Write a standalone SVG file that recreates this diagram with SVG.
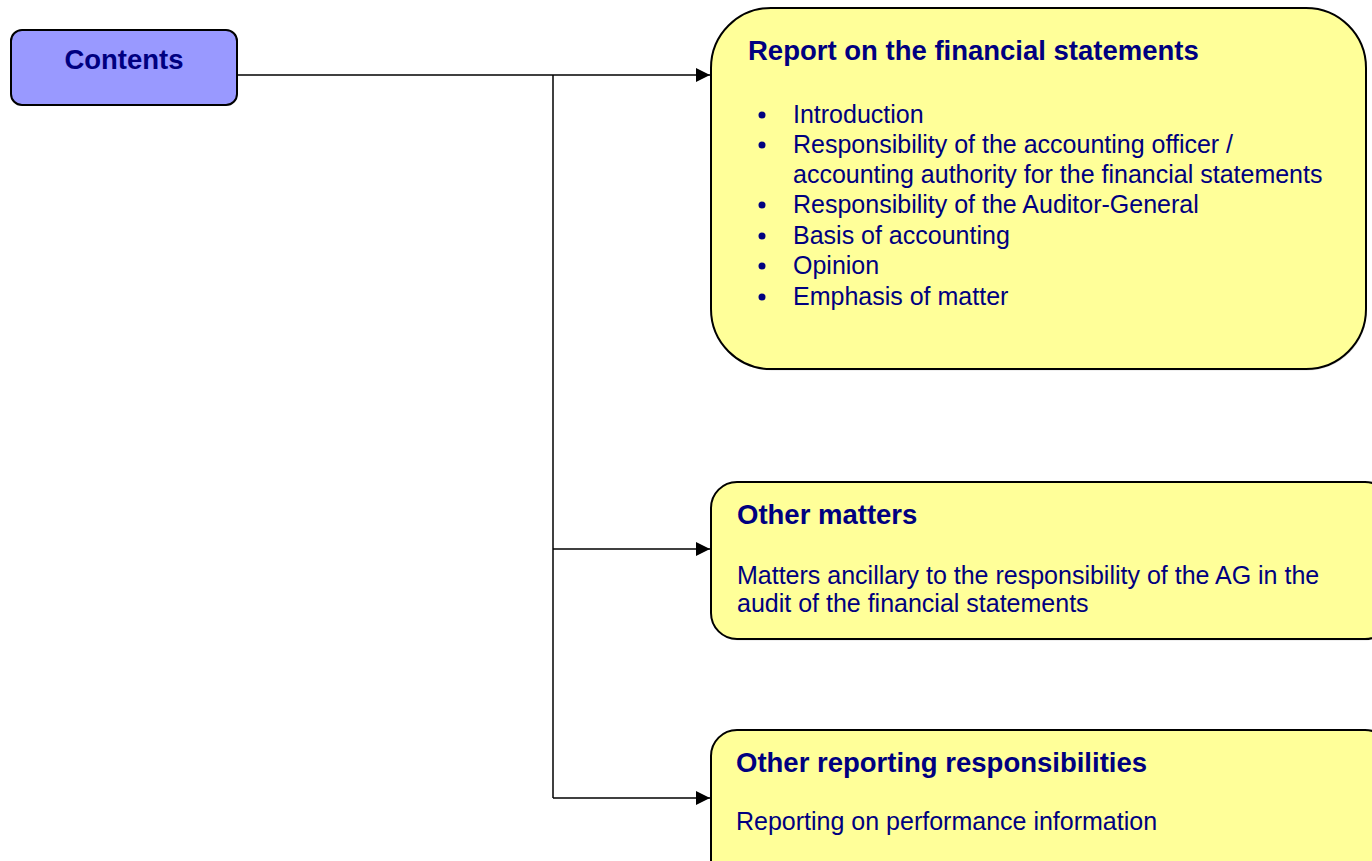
<svg xmlns="http://www.w3.org/2000/svg" width="1372" height="861" viewBox="0 0 1372 861">
  <style>
    .box { stroke: #000; stroke-width: 2; }
    .main { fill: #9999FF; }
    .note { fill: #FFFF99; }
    .shadow { fill: #b0b0b0; opacity: 0.4; }
    .title { font-family: "Liberation Sans", Arial, sans-serif; font-weight: bold; font-size: 27.5px; fill: #000080; }
    .body { font-family: "Liberation Sans", Arial, sans-serif; font-size: 25px; fill: #000080; }
    .link { fill: none; stroke: #000; stroke-width: 1.5; }
  </style>
  <defs>
    <marker id="arrow" viewBox="0 0 10 10" refX="10" refY="5" markerWidth="14" markerHeight="14" markerUnits="userSpaceOnUse" orient="auto">
      <path d="M0,0 L10,5 L0,10 Z" fill="#000"/>
    </marker>
  </defs>
  <rect width="1372" height="861" fill="#fff"/>

  <g id="connectors">
    <path class="link" d="M237,75 H710" marker-end="url(#arrow)"/>
    <path class="link" d="M553,75 V798"/>
    <path class="link" d="M553,549 H710" marker-end="url(#arrow)"/>
    <path class="link" d="M553,798 H710" marker-end="url(#arrow)"/>
  </g>

  <g id="contents">
    <rect class="box main" x="11" y="30" width="226" height="75" rx="11"/>
    <text class="title" x="124" y="69" text-anchor="middle">Contents</text>
  </g>

  <g id="report-financial-statements">
    <rect class="shadow" x="712" y="9.5" width="655" height="361" rx="60"/>
    <rect class="box note" x="711" y="8" width="655" height="361" rx="60"/>
    <text class="title" x="748" y="60">Report on the financial statements</text>
    <g class="body">
      <circle cx="762" cy="115" r="3.5" fill="#000080"/>
      <text x="793" y="123">Introduction</text>
      <circle cx="762" cy="145" r="3.5" fill="#000080"/>
      <text x="793" y="153">Responsibility of the accounting officer /</text>
      <text x="793" y="183">accounting authority for the financial statements</text>
      <circle cx="762" cy="205" r="3.5" fill="#000080"/>
      <text x="793" y="213">Responsibility of the Auditor-General</text>
      <circle cx="762" cy="236" r="3.5" fill="#000080"/>
      <text x="793" y="244">Basis of accounting</text>
      <circle cx="762" cy="266" r="3.5" fill="#000080"/>
      <text x="793" y="274">Opinion</text>
      <circle cx="762" cy="297" r="3.5" fill="#000080"/>
      <text x="793" y="305">Emphasis of matter</text>
    </g>
  </g>

  <g id="other-matters">
    <rect class="shadow" x="712" y="483.5" width="680" height="157" rx="26"/>
    <rect class="box note" x="711" y="482" width="680" height="157" rx="26"/>
    <text class="title" x="737" y="524">Other matters</text>
    <text class="body" x="737" y="584">Matters ancillary to the responsibility of the AG in the</text>
    <text class="body" x="737" y="612">audit of the financial statements</text>
  </g>

  <g id="other-reporting">
    <rect class="shadow" x="712" y="731.5" width="680" height="160" rx="26"/>
    <rect class="box note" x="711" y="730" width="680" height="160" rx="26"/>
    <text class="title" x="736" y="772">Other reporting responsibilities</text>
    <text class="body" x="736" y="830">Reporting on performance information</text>
  </g>
</svg>
